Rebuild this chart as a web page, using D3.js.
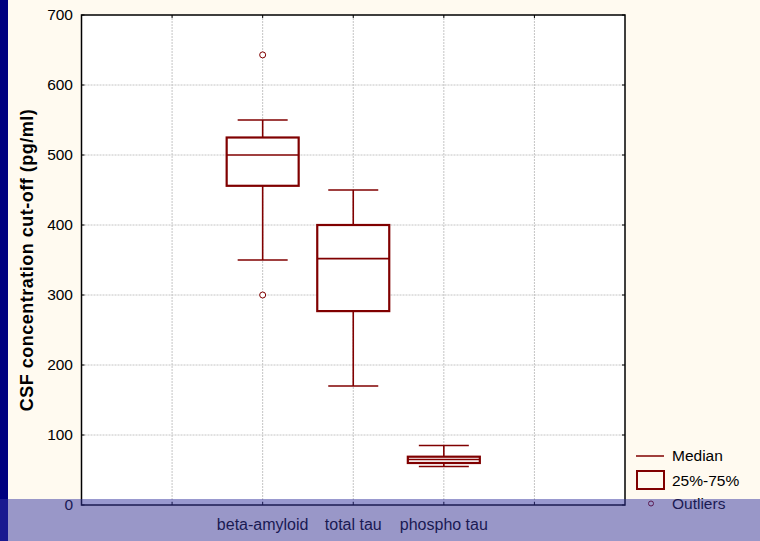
<!DOCTYPE html>
<html>
<head>
<meta charset="UTF-8">
<title>CSF cut-off boxplot</title>
<script src="https://cdnjs.cloudflare.com/ajax/libs/d3/7.8.5/d3.min.js"></script>
<style>
    body { margin: 0; background: #fffaf0; }
    svg { display: block; font-family: Arial, "Liberation Sans", sans-serif; }
    .grid line { stroke: #c4c4c4; stroke-dasharray: 2,1; stroke-width: 1; }
    .tick-lbl { font-size: 15.5px; fill: #000; }
</style>
</head>
<body>
<div class="chart"></div>
<script>
    // data
    const categories = ["beta-amyloid", "total tau", "phospho tau"];
    const whiskerLow = [350, 170, 55];
    const q1 = [456, 277, 60];
    const median = [500, 352, 65];
    const q3 = [525, 400, 69];
    const whiskerHigh = [550, 450, 85];
    const outliers = [[643, 300], [], []];
    const yTicks = [0, 100, 200, 300, 400, 500, 600, 700];

    const W = 760, H = 541;
    const plot = { left: 81.5, right: 625, top: 15, bottom: 505 };
    const red = "#800000";

    const svg = d3.select(".chart").append("svg")
        .attr("width", W).attr("height", H);

    svg.append("rect").attr("width", W).attr("height", H).attr("fill", "#fffaf0");
    svg.append("rect").attr("width", 8).attr("height", H).attr("fill", "#000080");

    // 6 slots: gridlines at 1..5, categories at 2,3,4
    const x = d3.scaleLinear().domain([0, 6]).range([plot.left, plot.right]);
    const y = d3.scaleLinear().domain([0, 700]).range([plot.bottom, plot.top]);
    const xPos = i => x(i + 2);

    svg.append("rect")
        .attr("x", plot.left).attr("y", plot.top)
        .attr("width", plot.right - plot.left).attr("height", plot.bottom - plot.top)
        .attr("fill", "#fff");

    const grid = svg.append("g").attr("class", "grid");
    grid.selectAll(".h").data(yTicks.slice(1, -1)).enter().append("line")
        .attr("x1", plot.left).attr("x2", plot.right)
        .attr("y1", d => y(d)).attr("y2", d => y(d));
    grid.selectAll(".v").data([1, 2, 3, 4, 5]).enter().append("line")
        .attr("y1", plot.top).attr("y2", plot.bottom)
        .attr("x1", d => x(d)).attr("x2", d => x(d));

    // boxes
    const boxW = 72, capW = 50;
    const g = svg.append("g");
    categories.forEach((c, i) => {
        const cx = xPos(i);
        const b = g.append("g").attr("stroke", red).attr("fill", "none");
        b.append("line").attr("x1", cx).attr("x2", cx)
            .attr("y1", y(whiskerHigh[i])).attr("y2", y(q3[i])).attr("stroke-width", 1.6);
        b.append("line").attr("x1", cx).attr("x2", cx)
            .attr("y1", y(q1[i])).attr("y2", y(whiskerLow[i])).attr("stroke-width", 1.6);
        [whiskerHigh[i], whiskerLow[i]].forEach(v => {
            b.append("line").attr("x1", cx - capW / 2).attr("x2", cx + capW / 2)
                .attr("y1", y(v)).attr("y2", y(v)).attr("stroke-width", 1.6);
        });
        b.append("rect").attr("x", cx - boxW / 2).attr("width", boxW)
            .attr("y", y(q3[i])).attr("height", y(q1[i]) - y(q3[i]))
            .attr("fill", "#fff").attr("stroke-width", 2.2);
        b.append("line").attr("x1", cx - boxW / 2).attr("x2", cx + boxW / 2)
            .attr("y1", y(median[i])).attr("y2", y(median[i])).attr("stroke-width", 1.6);
        outliers[i].forEach(v => {
            b.append("circle").attr("cx", cx).attr("cy", y(v)).attr("r", 3)
                .attr("fill", "#fff").attr("stroke-width", 1);
        });
    });

    // frame and inward ticks
    svg.append("rect")
        .attr("x", plot.left).attr("y", plot.top)
        .attr("width", plot.right - plot.left).attr("height", plot.bottom - plot.top)
        .attr("fill", "none").attr("stroke", "#000").attr("stroke-width", 1.5);

    const ticks = svg.append("g").attr("stroke", "#000").attr("stroke-width", 1);
    yTicks.forEach(v => {
        ticks.append("line").attr("x1", plot.left).attr("x2", plot.left + 3).attr("y1", y(v)).attr("y2", y(v));
        ticks.append("line").attr("x1", plot.right - 3).attr("x2", plot.right).attr("y1", y(v)).attr("y2", y(v));
    });
    [1, 2, 3, 4, 5].forEach(v => {
        ticks.append("line").attr("x1", x(v)).attr("x2", x(v)).attr("y1", plot.bottom).attr("y2", plot.bottom - 3);
        ticks.append("line").attr("x1", x(v)).attr("x2", x(v)).attr("y1", plot.top).attr("y2", plot.top + 3);
    });

    // y labels
    svg.selectAll(".ylbl").data(yTicks).enter().append("text")
        .attr("class", "tick-lbl")
        .attr("x", 73).attr("y", d => y(d)).attr("dy", "0.35em")
        .attr("text-anchor", "end").text(d => d);

    svg.append("text")
        .attr("transform", `translate(33,${(plot.top + plot.bottom) / 2}) rotate(-90)`)
        .attr("text-anchor", "middle")
        .style("font-size", "18px").style("font-weight", "bold")
        .style("letter-spacing", "0.5px")
        .text("CSF concentration cut-off (pg/ml)");

    // x labels
    svg.selectAll(".xlbl").data(categories).enter().append("text")
        .attr("class", "tick-lbl").style("font-size", "16px")
        .attr("x", (d, i) => xPos(i)).attr("y", 530)
        .attr("text-anchor", "middle").text(d => d);

    // legend
    const lg = svg.append("g").attr("transform", "translate(636,0)");
    lg.append("line").attr("x1", 0).attr("x2", 28).attr("y1", 456).attr("y2", 456)
        .attr("stroke", red).attr("stroke-width", 1.5);
    lg.append("rect").attr("x", 1).attr("y", 471).attr("width", 27).attr("height", 18)
        .attr("fill", "none").attr("stroke", red).attr("stroke-width", 2);
    lg.append("circle").attr("cx", 15).attr("cy", 503.5).attr("r", 2.5)
        .attr("fill", "none").attr("stroke", red).attr("stroke-width", 1);
    ["Median", "25%-75%", "Outliers"].forEach((t, i) => {
        lg.append("text").attr("class", "tick-lbl")
            .attr("x", 36).attr("y", [456, 481, 504][i]).attr("dy", "0.35em").text(t);
    });

    // translucent band across the bottom
    svg.append("rect").attr("x", 0).attr("y", 499).attr("width", W).attr("height", H - 499)
        .attr("fill", "rgb(51,51,160)").attr("opacity", 0.5);
</script>
</body>
</html>
